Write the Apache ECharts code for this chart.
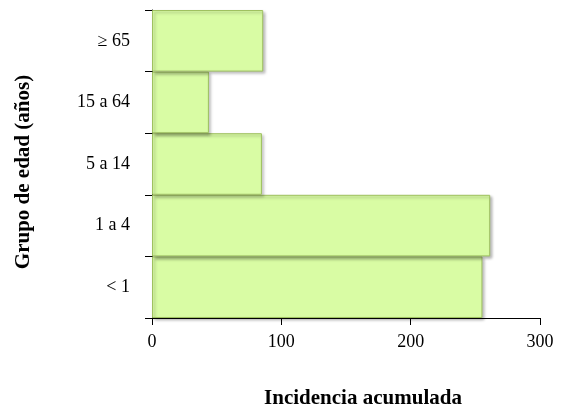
<!DOCTYPE html>
<html>
<head>
<meta charset="utf-8">
<script src="https://cdn.jsdelivr.net/npm/echarts@6/dist/echarts.min.js"></script>
<style>html,body{margin:0;padding:0;background:#fff}#c{width:566px;height:408px}</style>
</head>
<body>
<div id="c"></div>
<script>
var categories = ['< 1', '1 a 4', '5 a 14', '15 a 64', '\u2265 65'];
var values = [255.5, 261.5, 85, 44, 86];
var xTicks = [0, 100, 200, 300];

var chart = echarts.init(document.getElementById('c'));
var font = 'Liberation Serif, DejaVu Serif, serif';
chart.setOption({
  animation: false,
  grid: {left: 152, right: 26, top: 10, bottom: 90, containLabel: false, outerBoundsMode: 'none'},
  xAxis: {
    type: 'value', min: xTicks[0], max: xTicks[xTicks.length - 1], interval: 100,
    name: 'Incidencia acumulada', nameLocation: 'middle', nameGap: 70,
    nameTextStyle: {fontFamily: font, fontSize: 21, fontWeight: 'bold', color: '#000', padding: [0, 0, 0, 34]},
    axisLine: {show: true, lineStyle: {color: '#000', width: 1}},
    axisTick: {show: true, length: 7, lineStyle: {color: '#000'}},
    axisLabel: {fontFamily: font, fontSize: 18, color: '#000', margin: 15},
    splitLine: {show: false}
  },
  yAxis: {
    type: 'category', data: categories,
    name: 'Grupo de edad (a\u00f1os)', nameLocation: 'middle', nameGap: 118, nameRotate: 90,
    nameTextStyle: {fontFamily: font, fontSize: 21, fontWeight: 'bold', color: '#000', padding: [0, 16, 0, 0]},
    axisLine: {show: true, lineStyle: {color: '#000', width: 1}},
    axisTick: {show: true, length: 7, lineStyle: {color: '#000'}},
    axisLabel: {fontFamily: font, fontSize: 18, color: '#000', margin: 22}
  },
  series: [{
    type: 'bar', data: values, barCategoryGap: '0%',
    itemStyle: {color: '#d9fca4', borderColor: '#9fc160', borderWidth: 1,
      shadowColor: 'rgba(0,0,0,0.3)', shadowBlur: 3, shadowOffsetX: 2, shadowOffsetY: 2}
  }]
});
</script>
</body>
</html>
